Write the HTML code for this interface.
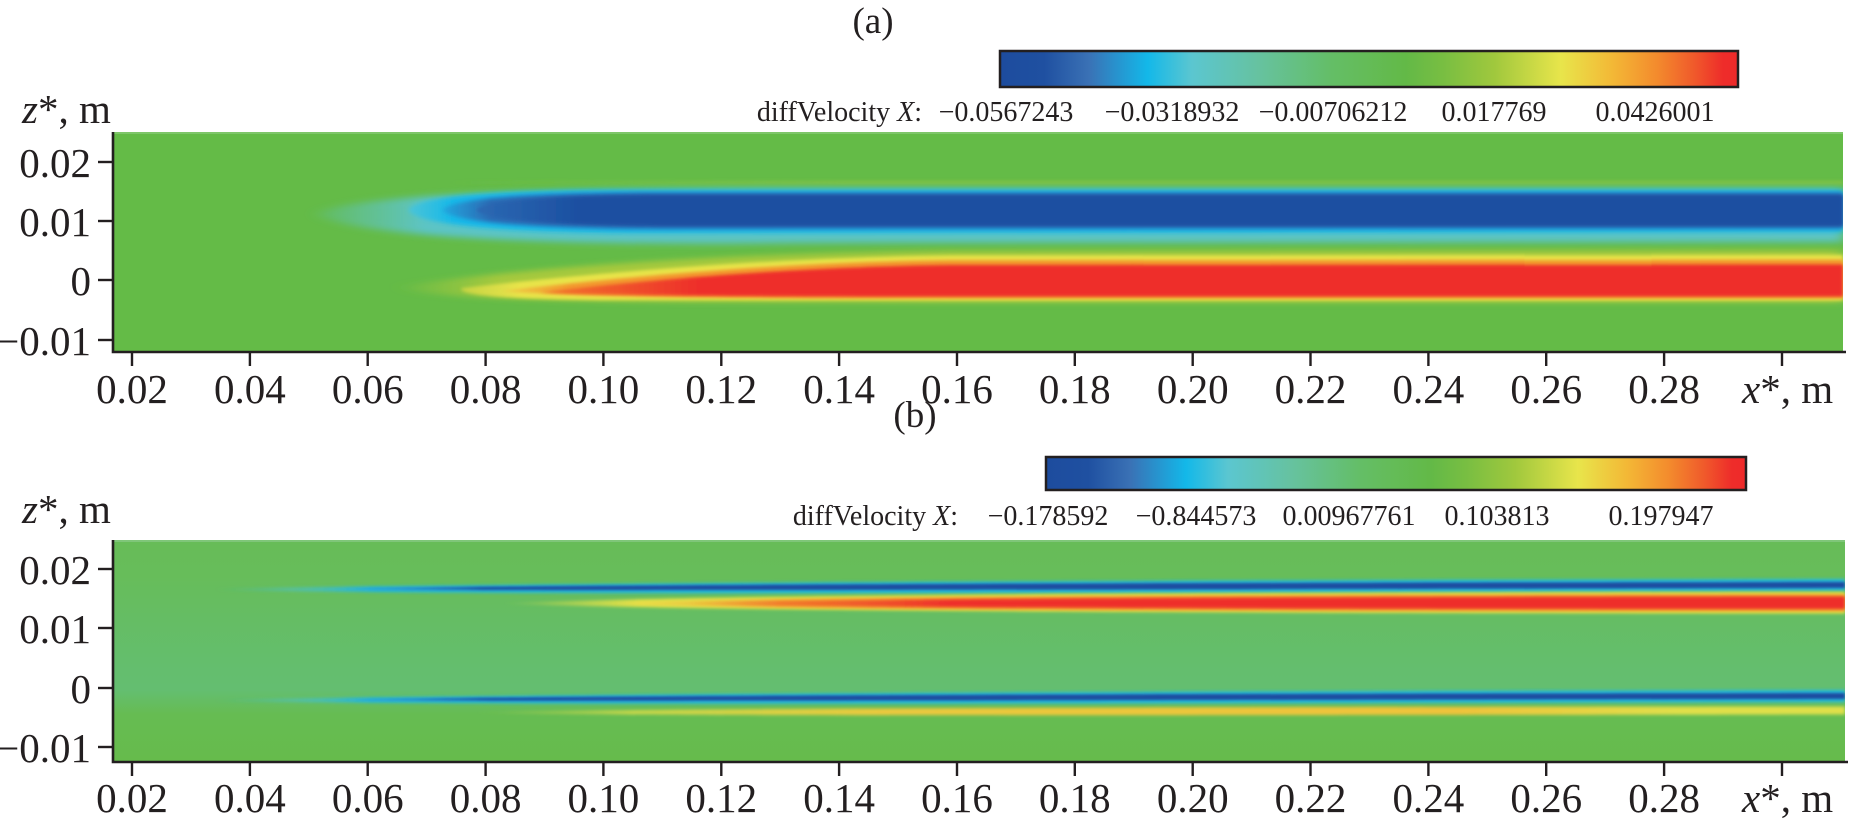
<!DOCTYPE html>
<html>
<head>
<meta charset="utf-8">
<style>
  html, body { margin: 0; padding: 0; background: #ffffff; }
  svg { display: block; }
  text { font-family: "Liberation Serif", "DejaVu Serif", serif; fill: #231f20; }
</style>
</head>
<body>
<svg xmlns="http://www.w3.org/2000/svg" width="1858" height="826" viewBox="0 0 1858 826">
  <defs>
    <linearGradient id="cmap" x1="0" y1="0" x2="1" y2="0">
      <stop offset="0" stop-color="#1d4c9e"/>
      <stop offset="0.06" stop-color="#1f50a1"/>
      <stop offset="0.12" stop-color="#3a71b5"/>
      <stop offset="0.20" stop-color="#13b8e9"/>
      <stop offset="0.26" stop-color="#5bc6d0"/>
      <stop offset="0.35" stop-color="#66c2a0"/>
      <stop offset="0.45" stop-color="#64be66"/>
      <stop offset="0.55" stop-color="#63b947"/>
      <stop offset="0.60" stop-color="#78be42"/>
      <stop offset="0.67" stop-color="#a0c83d"/>
      <stop offset="0.76" stop-color="#e8e54b"/>
      <stop offset="0.83" stop-color="#f3b836"/>
      <stop offset="0.89" stop-color="#f38b2d"/>
      <stop offset="0.94" stop-color="#f05a2b"/>
      <stop offset="0.98" stop-color="#ee2c2a"/>
      <stop offset="1" stop-color="#ee2a2a"/>
    </linearGradient>

    <clipPath id="clipA"><rect x="113" y="132" width="1730" height="219"/></clipPath>
    <clipPath id="clipB"><rect x="113" y="540" width="1732" height="221"/></clipPath>

    <filter id="f12" filterUnits="userSpaceOnUse" x="0" y="0" width="1858" height="826"><feGaussianBlur stdDeviation="1.2"/></filter>
    <filter id="f15" filterUnits="userSpaceOnUse" x="0" y="0" width="1858" height="826"><feGaussianBlur stdDeviation="1.5"/></filter>
    <filter id="f2" filterUnits="userSpaceOnUse" x="0" y="0" width="1858" height="826"><feGaussianBlur stdDeviation="2"/></filter>
    <filter id="f3" filterUnits="userSpaceOnUse" x="0" y="0" width="1858" height="826"><feGaussianBlur stdDeviation="3"/></filter>
    <filter id="f4" filterUnits="userSpaceOnUse" x="0" y="0" width="1858" height="826"><feGaussianBlur stdDeviation="6 3.5"/></filter>
    <filter id="f5" filterUnits="userSpaceOnUse" x="0" y="0" width="1858" height="826"><feGaussianBlur stdDeviation="8 3"/></filter>

    <!-- plot (a) gradients -->
    <linearGradient id="aTeal" gradientUnits="userSpaceOnUse" x1="305" y1="0" x2="425" y2="0">
      <stop offset="0" stop-color="#5dc4c4" stop-opacity="0"/>
      <stop offset="0.5" stop-color="#62c2a8" stop-opacity="0.7"/>
      <stop offset="1" stop-color="#5cc4c6" stop-opacity="1"/>
    </linearGradient>
    <linearGradient id="aCyan" gradientUnits="userSpaceOnUse" x1="405" y1="0" x2="455" y2="0">
      <stop offset="0" stop-color="#4ec5d6"/>
      <stop offset="1" stop-color="#15b8e9"/>
    </linearGradient>
    <linearGradient id="aMid" gradientUnits="userSpaceOnUse" x1="435" y1="0" x2="490" y2="0">
      <stop offset="0" stop-color="#1fb0e5"/>
      <stop offset="1" stop-color="#2c6bb4"/>
    </linearGradient>
    <linearGradient id="aDark" gradientUnits="userSpaceOnUse" x1="470" y1="0" x2="580" y2="0">
      <stop offset="0" stop-color="#2c6bb4"/>
      <stop offset="1" stop-color="#1c4fa1"/>
    </linearGradient>
    <linearGradient id="aYLine" gradientUnits="userSpaceOnUse" x1="450" y1="0" x2="850" y2="0">
      <stop offset="0" stop-color="#8fc540" stop-opacity="0"/>
      <stop offset="1" stop-color="#8fc540" stop-opacity="0.75"/>
    </linearGradient>
    <linearGradient id="aRH" gradientUnits="userSpaceOnUse" x1="395" y1="0" x2="500" y2="0">
      <stop offset="0" stop-color="#a6c93d" stop-opacity="0"/>
      <stop offset="1" stop-color="#a6c93d" stop-opacity="1"/>
    </linearGradient>
    <linearGradient id="aRY" gradientUnits="userSpaceOnUse" x1="455" y1="0" x2="520" y2="0">
      <stop offset="0" stop-color="#c2d242"/>
      <stop offset="1" stop-color="#e8e44a"/>
    </linearGradient>
    <linearGradient id="aRO" gradientUnits="userSpaceOnUse" x1="495" y1="0" x2="570" y2="0">
      <stop offset="0" stop-color="#ecd548"/>
      <stop offset="1" stop-color="#f39a2d"/>
    </linearGradient>
    <linearGradient id="aRR" gradientUnits="userSpaceOnUse" x1="535" y1="0" x2="700" y2="0">
      <stop offset="0" stop-color="#f27a2c"/>
      <stop offset="1" stop-color="#ee2e2a"/>
    </linearGradient>

    <!-- plot (b) gradients -->
    <linearGradient id="bBase" gradientUnits="userSpaceOnUse" x1="0" y1="540" x2="0" y2="761">
      <stop offset="0" stop-color="#67bc58"/>
      <stop offset="0.16" stop-color="#67bd5a"/>
      <stop offset="0.36" stop-color="#65bd64"/>
      <stop offset="0.59" stop-color="#64be6e"/>
      <stop offset="0.68" stop-color="#64be70"/>
      <stop offset="0.79" stop-color="#66bc52"/>
      <stop offset="1" stop-color="#66bb4c"/>
    </linearGradient>
    <linearGradient id="bHalo" gradientUnits="userSpaceOnUse" x1="210" y1="0" x2="370" y2="0">
      <stop offset="0" stop-color="#2bbad9" stop-opacity="0"/>
      <stop offset="0.5" stop-color="#4cc2cc" stop-opacity="0.6"/>
      <stop offset="1" stop-color="#23b8de" stop-opacity="1"/>
    </linearGradient>
    <linearGradient id="bCore" gradientUnits="userSpaceOnUse" x1="320" y1="0" x2="480" y2="0">
      <stop offset="0" stop-color="#2a9fd6" stop-opacity="0"/>
      <stop offset="0.4" stop-color="#2a8fcc" stop-opacity="0.9"/>
      <stop offset="1" stop-color="#1b4ea0" stop-opacity="1"/>
    </linearGradient>
    <linearGradient id="bY" gradientUnits="userSpaceOnUse" x1="500" y1="0" x2="640" y2="0">
      <stop offset="0" stop-color="#e6e247" stop-opacity="0"/>
      <stop offset="1" stop-color="#e6e247" stop-opacity="1"/>
    </linearGradient>
    <linearGradient id="bO" gradientUnits="userSpaceOnUse" x1="610" y1="0" x2="780" y2="0">
      <stop offset="0" stop-color="#eccf46" stop-opacity="0.3"/>
      <stop offset="1" stop-color="#f39a2c" stop-opacity="1"/>
    </linearGradient>
    <linearGradient id="bR" gradientUnits="userSpaceOnUse" x1="690" y1="0" x2="950" y2="0">
      <stop offset="0" stop-color="#f0702b" stop-opacity="0.4"/>
      <stop offset="1" stop-color="#ee2e2a" stop-opacity="1"/>
    </linearGradient>
    <linearGradient id="bLY" gradientUnits="userSpaceOnUse" x1="470" y1="0" x2="1843" y2="0">
      <stop offset="0" stop-color="#cfd94a" stop-opacity="0"/>
      <stop offset="0.12" stop-color="#d6db48" stop-opacity="0.9"/>
      <stop offset="0.3" stop-color="#ecc93c" stop-opacity="1"/>
      <stop offset="0.72" stop-color="#efc33a" stop-opacity="1"/>
      <stop offset="0.88" stop-color="#e0df4a" stop-opacity="1"/>
      <stop offset="1" stop-color="#dfe04a" stop-opacity="1"/>
    </linearGradient>
  </defs>

  <!-- ================= (a) ================= -->
  <text x="873" y="33" font-size="37" text-anchor="middle">(a)</text>
  <rect x="1000" y="51" width="738" height="36" fill="url(#cmap)" stroke="#231f20" stroke-width="2.5"/>
  <text x="922" y="121" font-size="28" text-anchor="end">diffVelocity <tspan font-style="italic">X</tspan>:</text>
  <text x="1006" y="121" font-size="28" text-anchor="middle">−0.0567243</text>
  <text x="1172" y="121" font-size="28" text-anchor="middle">−0.0318932</text>
  <text x="1333" y="121" font-size="28" text-anchor="middle">−0.00706212</text>
  <text x="1494" y="121" font-size="28" text-anchor="middle">0.017769</text>
  <text x="1655" y="121" font-size="28" text-anchor="middle">0.0426001</text>

  <text x="22" y="123" font-size="41"><tspan font-style="italic">z</tspan>*, m</text>

  <g clip-path="url(#clipA)">
    <rect x="113" y="132" width="1730" height="219" fill="#64bb47"/>
    <rect x="113" y="132" width="1730" height="2" fill="#8fcd80" opacity="0.6"/>
    <!-- faint yellow line above blue -->
    <rect x="450" y="181" width="1393" height="3" fill="url(#aYLine)" filter="url(#f15)"/>
    <!-- blue band -->
    <path d="M1843,188 L800,188 C560,188 360,193 312,214 C360,238 560,246 800,243 L1843,242 Z" fill="url(#aTeal)" filter="url(#f4)"/>
    <path d="M1843,190 L630,190 C480,190 414,198 408,210 C414,223 490,233 650,233 L1843,232 Z" fill="url(#aCyan)" filter="url(#f2)"/>
    <path d="M1843,192.5 L650,192.5 C510,193 450,200 442,210 C450,221 520,229 670,229 L1843,228.5 Z" fill="url(#aMid)" filter="url(#f2)"/>
    <path d="M1843,195 L670,195 C540,195 485,201 476,210 C485,220 550,226 690,226 L1843,226 Z" fill="url(#aDark)" filter="url(#f15)"/>
    <!-- red band -->
    <path d="M1843,250 L950,251 C720,253 520,268 400,286 C400,296 520,301 700,302 L950,302.5 L1843,302.5 Z" fill="url(#aRH)" filter="url(#f5)"/>
    <path d="M1843,255 L950,255.5 C740,258 550,278 462,288 C455,294 500,299 600,300 L950,300.5 L1843,300.5 Z" fill="url(#aRY)" filter="url(#f15)"/>
    <path d="M1843,259.5 L950,260 C760,262 580,282 500,291 C580,297 760,298.5 950,298.5 L1843,298.5 Z" fill="url(#aRO)" filter="url(#f15)"/>
    <path d="M1843,264.5 L950,265 C780,267 620,283 540,292.5 C620,296 780,296.5 950,296.5 L1843,296.5 Z" fill="url(#aRR)" filter="url(#f15)"/>
  </g>

  <!-- axes (a) -->
  <path d="M113,132 V352 H1846" fill="none" stroke="#231f20" stroke-width="2.6"/>
  <g stroke="#231f20" stroke-width="2.4">
    <line x1="98" y1="162" x2="113" y2="162"/>
    <line x1="98" y1="221" x2="113" y2="221"/>
    <line x1="98" y1="280" x2="113" y2="280"/>
    <line x1="98" y1="340" x2="113" y2="340"/>
    <line x1="132" y1="351" x2="132" y2="366"/>
    <line x1="249.9" y1="351" x2="249.9" y2="366"/>
    <line x1="367.7" y1="351" x2="367.7" y2="366"/>
    <line x1="485.6" y1="351" x2="485.6" y2="366"/>
    <line x1="603.4" y1="351" x2="603.4" y2="366"/>
    <line x1="721.3" y1="351" x2="721.3" y2="366"/>
    <line x1="839.1" y1="351" x2="839.1" y2="366"/>
    <line x1="957" y1="351" x2="957" y2="366"/>
    <line x1="1074.8" y1="351" x2="1074.8" y2="366"/>
    <line x1="1192.7" y1="351" x2="1192.7" y2="366"/>
    <line x1="1310.5" y1="351" x2="1310.5" y2="366"/>
    <line x1="1428.4" y1="351" x2="1428.4" y2="366"/>
    <line x1="1546.2" y1="351" x2="1546.2" y2="366"/>
    <line x1="1664.1" y1="351" x2="1664.1" y2="366"/>
    <line x1="1782" y1="351" x2="1782" y2="366"/>
  </g>
  <g font-size="41" text-anchor="end">
    <text x="91" y="177">0.02</text>
    <text x="91" y="236">0.01</text>
    <text x="91" y="295">0</text>
    <text x="91" y="355">−0.01</text>
  </g>
  <g font-size="41" text-anchor="middle">
    <text x="132" y="403">0.02</text>
    <text x="249.9" y="403">0.04</text>
    <text x="367.7" y="403">0.06</text>
    <text x="485.6" y="403">0.08</text>
    <text x="603.4" y="403">0.10</text>
    <text x="721.3" y="403">0.12</text>
    <text x="839.1" y="403">0.14</text>
    <text x="957" y="403">0.16</text>
    <text x="1074.8" y="403">0.18</text>
    <text x="1192.7" y="403">0.20</text>
    <text x="1310.5" y="403">0.22</text>
    <text x="1428.4" y="403">0.24</text>
    <text x="1546.2" y="403">0.26</text>
    <text x="1664.1" y="403">0.28</text>
  </g>
  <text x="1742" y="403" font-size="41"><tspan font-style="italic">x</tspan>*, m</text>

  <!-- ================= (b) ================= -->
  <text x="915" y="427" font-size="37" text-anchor="middle">(b)</text>
  <rect x="1046" y="457" width="700" height="33" fill="url(#cmap)" stroke="#231f20" stroke-width="2.5"/>
  <text x="958" y="525" font-size="28" text-anchor="end">diffVelocity <tspan font-style="italic">X</tspan>:</text>
  <text x="1048" y="525" font-size="28" text-anchor="middle">−0.178592</text>
  <text x="1196" y="525" font-size="28" text-anchor="middle">−0.844573</text>
  <text x="1349" y="525" font-size="28" text-anchor="middle">0.00967761</text>
  <text x="1497" y="525" font-size="28" text-anchor="middle">0.103813</text>
  <text x="1661" y="525" font-size="28" text-anchor="middle">0.197947</text>

  <text x="22" y="523" font-size="41"><tspan font-style="italic">z</tspan>*, m</text>

  <g clip-path="url(#clipB)">
    <rect x="113" y="540" width="1732" height="221" fill="url(#bBase)"/>
    <rect x="113" y="540" width="1732" height="2" fill="#8fcd90" opacity="0.6"/>
    <!-- upper blue streak -->
    <path d="M210,589.5 C400,584.5 900,580.5 1845,579 L1845,591 C900,594 400,594.5 210,589.5 Z" fill="url(#bHalo)" filter="url(#f15)"/>
    <path d="M320,589 C500,585.5 900,583 1845,582 L1845,588 C900,590 500,591 320,589 Z" fill="url(#bCore)" filter="url(#f12)"/>
    <!-- red band -->
    <path d="M500,603.5 C660,597 950,592.5 1845,592 L1845,613.5 C950,613 660,609 500,603.5 Z" fill="url(#bY)" filter="url(#f15)"/>
    <path d="M610,603.5 C760,598.5 1000,595 1845,594.5 L1845,611 C1000,611 760,608 610,603.5 Z" fill="url(#bO)" filter="url(#f15)"/>
    <path d="M690,603.5 C860,599.5 1050,597 1845,596.5 L1845,609 C1050,609 860,607 690,603.5 Z" fill="url(#bR)" filter="url(#f15)"/>
    <!-- lower blue streak -->
    <path d="M210,700.5 C400,695.5 900,691.5 1845,690 L1845,702 C900,704 400,705 210,700.5 Z" fill="url(#bHalo)" filter="url(#f15)"/>
    <path d="M320,700 C500,696.5 900,694 1845,693 L1845,699 C900,700.5 500,701.5 320,700 Z" fill="url(#bCore)" filter="url(#f12)"/>
    <!-- lower yellow streak -->
    <path d="M470,712.5 C650,709 950,707 1845,706.5 L1845,714.5 C950,715.5 650,716 470,712.5 Z" fill="url(#bLY)" filter="url(#f15)"/>
  </g>

  <!-- axes (b) -->
  <path d="M113,540 V762 H1848" fill="none" stroke="#231f20" stroke-width="2.6"/>
  <g stroke="#231f20" stroke-width="2.4">
    <line x1="98" y1="569" x2="113" y2="569"/>
    <line x1="98" y1="628" x2="113" y2="628"/>
    <line x1="98" y1="688" x2="113" y2="688"/>
    <line x1="98" y1="747" x2="113" y2="747"/>
    <line x1="132" y1="761" x2="132" y2="776"/>
    <line x1="249.9" y1="761" x2="249.9" y2="776"/>
    <line x1="367.7" y1="761" x2="367.7" y2="776"/>
    <line x1="485.6" y1="761" x2="485.6" y2="776"/>
    <line x1="603.4" y1="761" x2="603.4" y2="776"/>
    <line x1="721.3" y1="761" x2="721.3" y2="776"/>
    <line x1="839.1" y1="761" x2="839.1" y2="776"/>
    <line x1="957" y1="761" x2="957" y2="776"/>
    <line x1="1074.8" y1="761" x2="1074.8" y2="776"/>
    <line x1="1192.7" y1="761" x2="1192.7" y2="776"/>
    <line x1="1310.5" y1="761" x2="1310.5" y2="776"/>
    <line x1="1428.4" y1="761" x2="1428.4" y2="776"/>
    <line x1="1546.2" y1="761" x2="1546.2" y2="776"/>
    <line x1="1664.1" y1="761" x2="1664.1" y2="776"/>
    <line x1="1782" y1="761" x2="1782" y2="776"/>
  </g>
  <g font-size="41" text-anchor="end">
    <text x="91" y="584">0.02</text>
    <text x="91" y="643">0.01</text>
    <text x="91" y="703">0</text>
    <text x="91" y="762">−0.01</text>
  </g>
  <g font-size="41" text-anchor="middle">
    <text x="132" y="812">0.02</text>
    <text x="249.9" y="812">0.04</text>
    <text x="367.7" y="812">0.06</text>
    <text x="485.6" y="812">0.08</text>
    <text x="603.4" y="812">0.10</text>
    <text x="721.3" y="812">0.12</text>
    <text x="839.1" y="812">0.14</text>
    <text x="957" y="812">0.16</text>
    <text x="1074.8" y="812">0.18</text>
    <text x="1192.7" y="812">0.20</text>
    <text x="1310.5" y="812">0.22</text>
    <text x="1428.4" y="812">0.24</text>
    <text x="1546.2" y="812">0.26</text>
    <text x="1664.1" y="812">0.28</text>
  </g>
  <text x="1742" y="812" font-size="41"><tspan font-style="italic">x</tspan>*, m</text>
</svg>
</body>
</html>
